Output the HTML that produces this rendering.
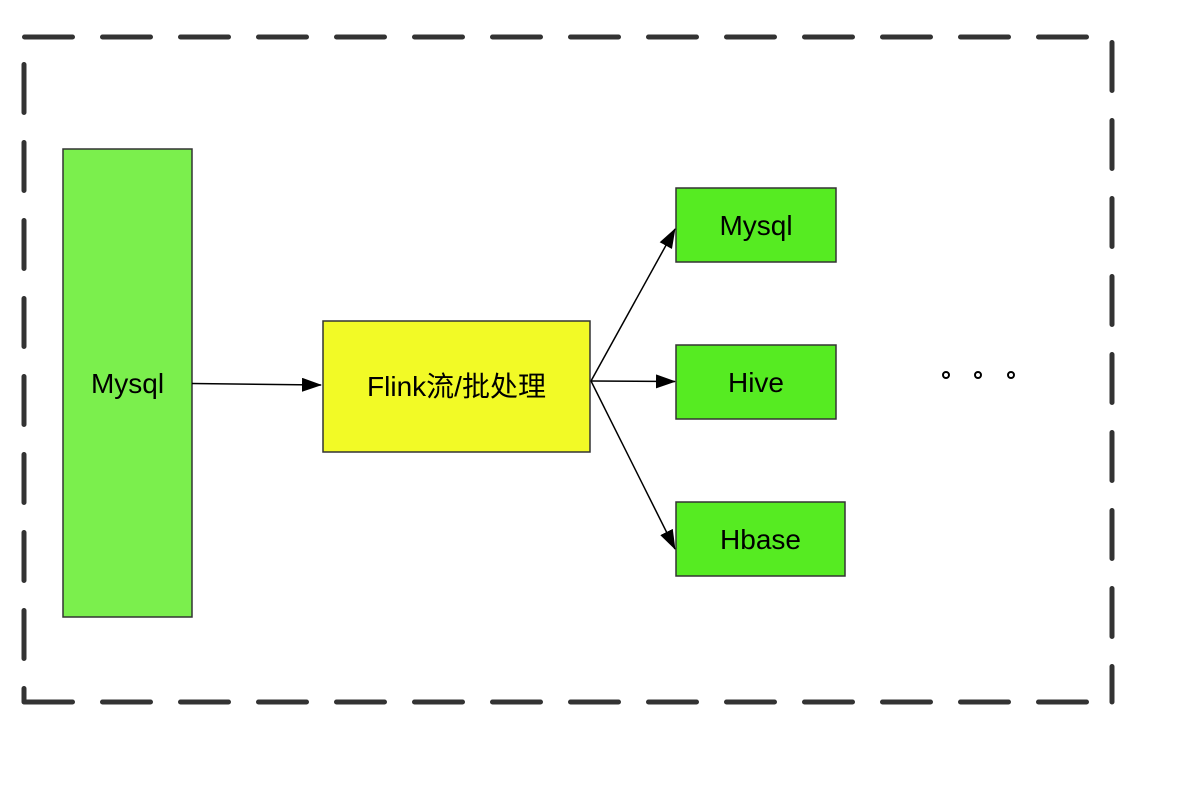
<!DOCTYPE html>
<html><head><meta charset="utf-8"><style>
html,body{margin:0;padding:0;background:#fff;}
svg{display:block;}
text{font-family:"Liberation Sans","Noto Sans CJK SC",sans-serif;font-size:28px;fill:#000;}
</style></head><body>
<svg width="1196" height="786" viewBox="0 0 1196 786" xmlns="http://www.w3.org/2000/svg">
<defs><marker id="a" markerWidth="10" markerHeight="10" refX="9" refY="5" orient="auto" markerUnits="userSpaceOnUse" viewBox="0 0 10 10"><path d="M0,0 L10,5 L0,10 z" fill="#000"/></marker>
<marker id="b" markerWidth="20" markerHeight="14" refX="19" refY="7" orient="auto" markerUnits="userSpaceOnUse" viewBox="0 0 20 14"><path d="M0,0 L20,7 L0,14 z" fill="#000"/></marker></defs>
<g stroke="#333" stroke-width="5" stroke-linecap="round" stroke-dasharray="48 30" fill="none">
<line x1="24.5" y1="37" x2="1112" y2="37"/>
<line x1="24" y1="64.5" x2="24" y2="702"/>
<line x1="24.5" y1="702" x2="1112" y2="702"/>
<line x1="1112" y1="42.5" x2="1112" y2="702"/>
</g>
<rect x="63" y="149" width="129" height="468" fill="#7bef4d" stroke="#333" stroke-width="1.5"/>
<text x="127.5" y="393" text-anchor="middle">Mysql</text>
<rect x="323" y="321" width="267" height="131" fill="#f2fa26" stroke="#333" stroke-width="1.5"/>
<text x="456.5" y="396" text-anchor="middle">Flink流/批处理</text>
<rect x="676" y="188" width="160" height="74" fill="#56eb22" stroke="#333" stroke-width="1.5"/>
<text x="756" y="235" text-anchor="middle">Mysql</text>
<rect x="676" y="345" width="160" height="74" fill="#56eb22" stroke="#333" stroke-width="1.5"/>
<text x="756" y="392" text-anchor="middle">Hive</text>
<rect x="676" y="502" width="169" height="74" fill="#56eb22" stroke="#333" stroke-width="1.5"/>
<text x="760.5" y="549" text-anchor="middle">Hbase</text>
<g stroke="#000" stroke-width="1.5" fill="none">
<line x1="192" y1="383.5" x2="321" y2="385" marker-end="url(#b)"/>
<line x1="591" y1="381" x2="675" y2="229" marker-end="url(#b)"/>
<line x1="591" y1="381" x2="675" y2="381.5" marker-end="url(#b)"/>
<line x1="591" y1="381" x2="675" y2="549" marker-end="url(#b)"/>
</g>
<g stroke="#000" stroke-width="2" fill="none">
<circle cx="946" cy="375" r="3"/><circle cx="978" cy="375" r="3"/><circle cx="1011" cy="375" r="3"/>
</g>
</svg>
</body></html>
